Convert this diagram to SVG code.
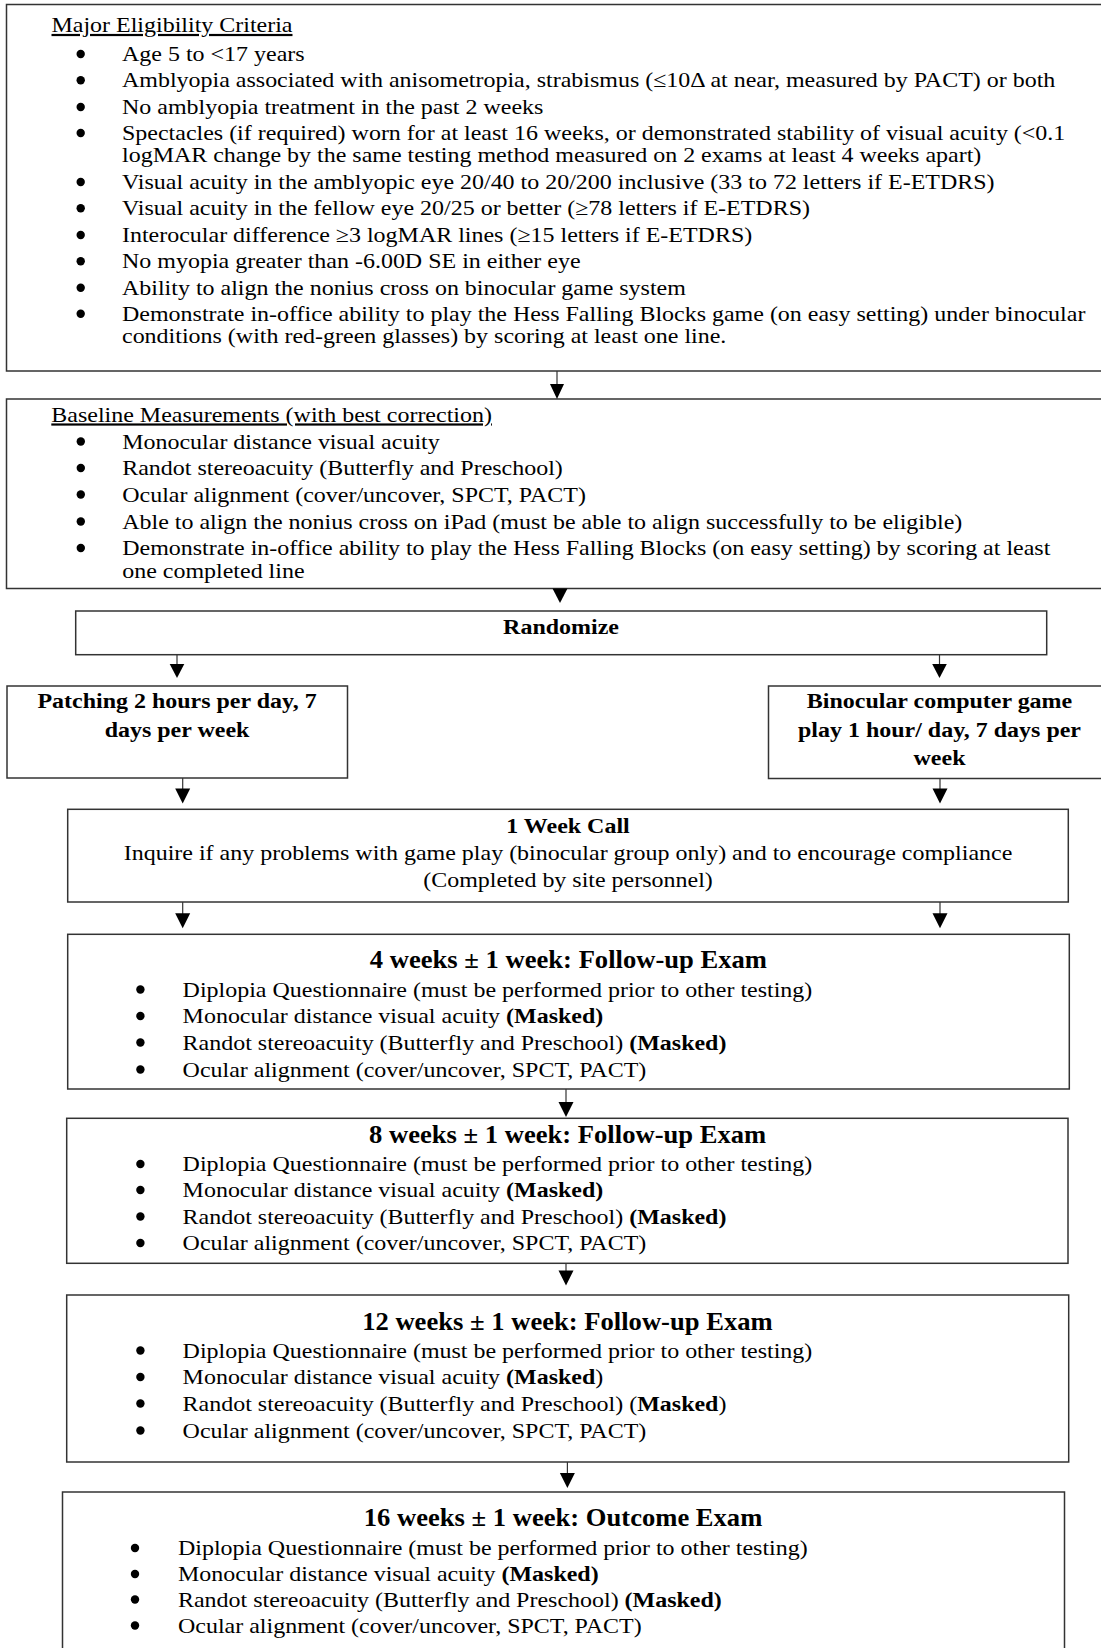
<svg xmlns="http://www.w3.org/2000/svg" width="1101" height="1648" viewBox="0 0 1101 1648">
<style>
.box{fill:#fff;stroke:#333;stroke-width:1.5}
.t{font-family:'Liberation Serif','Times New Roman',serif;font-size:22px;fill:#000}
.b{font-weight:bold}
.c{text-anchor:middle}
.h{font-size:24.4px;font-weight:bold}
.u{text-decoration:underline}
.con line{stroke:#333;stroke-width:1.2}
.con polygon{fill:#000}
.dot{fill:#000}
</style>
<rect x="0" y="0" width="1101" height="1648" fill="#fff"/>

<g id="eligibility">
<rect class="box" x="6.5" y="4.5" width="1100" height="366.5"/>
<text class="t u" transform="translate(51.5,32) scale(1.09,1)">Major Eligibility Criteria</text>
<g class="dot">
<circle cx="80.7" cy="54" r="4.2"/><circle cx="80.7" cy="80.3" r="4.2"/><circle cx="80.7" cy="107" r="4.2"/><circle cx="80.7" cy="133" r="4.2"/><circle cx="80.7" cy="182" r="4.2"/><circle cx="80.7" cy="208.3" r="4.2"/><circle cx="80.7" cy="235" r="4.2"/><circle cx="80.7" cy="261.3" r="4.2"/><circle cx="80.7" cy="287.7" r="4.2"/><circle cx="80.7" cy="313.7" r="4.2"/>
</g>
<text class="t" transform="translate(122,61) scale(1.09,1)">Age 5 to &lt;17 years</text>
<text class="t" transform="translate(122,87.3) scale(1.09,1)">Amblyopia associated with anisometropia, strabismus (≤10Δ at near, measured by PACT) or both</text>
<text class="t" transform="translate(122,114) scale(1.09,1)">No amblyopia treatment in the past 2 weeks</text>
<text class="t" transform="translate(122,140) scale(1.09,1)">Spectacles (if required) worn for at least 16 weeks, or demonstrated stability of visual acuity (&lt;0.1</text>
<text class="t" transform="translate(122,162.3) scale(1.09,1)">logMAR change by the same testing method measured on 2 exams at least 4 weeks apart)</text>
<text class="t" transform="translate(122,189) scale(1.09,1)">Visual acuity in the amblyopic eye 20/40 to 20/200 inclusive (33 to 72 letters if E-ETDRS)</text>
<text class="t" transform="translate(122,215.3) scale(1.09,1)">Visual acuity in the fellow eye 20/25 or better (≥78 letters if E-ETDRS)</text>
<text class="t" transform="translate(122,242) scale(1.09,1)">Interocular difference ≥3 logMAR lines (≥15 letters if E-ETDRS)</text>
<text class="t" transform="translate(122,268.3) scale(1.09,1)">No myopia greater than -6.00D SE in either eye</text>
<text class="t" transform="translate(122,294.7) scale(1.09,1)">Ability to align the nonius cross on binocular game system</text>
<text class="t" transform="translate(122,320.7) scale(1.09,1)">Demonstrate in-office ability to play the Hess Falling Blocks game (on easy setting) under binocular</text>
<text class="t" transform="translate(122,342.7) scale(1.09,1)">conditions (with red-green glasses) by scoring at least one line.</text>
</g>

<g id="baseline">
<rect class="box" x="6.5" y="399" width="1100" height="189.5"/>
<text class="t u" transform="translate(51.3,421.5) scale(1.09,1)">Baseline Measurements (with best correction)</text>
<g class="dot">
<circle cx="80.8" cy="441.5" r="4.2"/><circle cx="80.8" cy="468" r="4.2"/><circle cx="80.8" cy="494.5" r="4.2"/><circle cx="80.8" cy="521.5" r="4.2"/><circle cx="80.8" cy="548" r="4.2"/>
</g>
<text class="t" transform="translate(122.2,448.5) scale(1.09,1)">Monocular distance visual acuity</text>
<text class="t" transform="translate(122.2,475) scale(1.09,1)">Randot stereoacuity (Butterfly and Preschool)</text>
<text class="t" transform="translate(122.2,501.5) scale(1.09,1)">Ocular alignment (cover/uncover, SPCT, PACT)</text>
<text class="t" transform="translate(122.2,528.5) scale(1.09,1)">Able to align the nonius cross on iPad (must be able to align successfully to be eligible)</text>
<text class="t" transform="translate(122.2,555) scale(1.09,1)">Demonstrate in-office ability to play the Hess Falling Blocks (on easy setting) by scoring at least</text>
<text class="t" transform="translate(122.2,577.5) scale(1.09,1)">one completed line</text>
</g>

<g id="randomize">
<rect class="box" x="75.7" y="611" width="971" height="43.7"/>
<text class="t b c" transform="translate(561,634) scale(1.09,1)">Randomize</text>
</g>

<g id="patching">
<rect class="box" x="7" y="686" width="340.5" height="92"/>
<text class="t b c" transform="translate(177,708) scale(1.09,1)">Patching 2 hours per day, 7</text>
<text class="t b c" transform="translate(177,736.5) scale(1.09,1)">days per week</text>
</g>

<g id="binocular">
<rect class="box" x="768.5" y="686" width="340" height="92.5"/>
<text class="t b c" transform="translate(939.5,708) scale(1.09,1)">Binocular computer game</text>
<text class="t b c" transform="translate(939.5,736.5) scale(1.09,1)">play 1 hour/ day, 7 days per</text>
<text class="t b c" transform="translate(939.5,765) scale(1.09,1)">week</text>
</g>

<g id="week1call">
<rect class="box" x="67.7" y="809.3" width="1000.6" height="92.7"/>
<text class="t b c" transform="translate(568,833) scale(1.09,1)">1 Week Call</text>
<text class="t c" transform="translate(568,860) scale(1.09,1)">Inquire if any problems with game play (binocular group only) and to encourage compliance</text>
<text class="t c" transform="translate(568,887) scale(1.09,1)">(Completed by site personnel)</text>
</g>

<g id="week4">
<rect class="box" x="67.7" y="934.3" width="1001.6" height="154.7"/>
<text class="t h c" transform="translate(568.4,968) scale(1.09,1)">4 weeks ± 1 week: Follow-up Exam</text>
<g class="dot">
<circle cx="140.4" cy="989.5" r="4.2"/><circle cx="140.4" cy="1016" r="4.2"/><circle cx="140.4" cy="1042.5" r="4.2"/><circle cx="140.4" cy="1069.5" r="4.2"/>
</g>
<text class="t" transform="translate(182.6,996.5) scale(1.09,1)">Diplopia Questionnaire (must be performed prior to other testing)</text>
<text class="t" transform="translate(182.6,1023) scale(1.09,1)">Monocular distance visual acuity <tspan class="b">(Masked)</tspan></text>
<text class="t" transform="translate(182.6,1049.5) scale(1.09,1)">Randot stereoacuity (Butterfly and Preschool) <tspan class="b">(Masked)</tspan></text>
<text class="t" transform="translate(182.6,1076.5) scale(1.09,1)">Ocular alignment (cover/uncover, SPCT, PACT)</text>
</g>

<g id="week8">
<rect class="box" x="66.7" y="1118.3" width="1001.3" height="145"/>
<text class="t h c" transform="translate(567.6,1143) scale(1.09,1)">8 weeks ± 1 week: Follow-up Exam</text>
<g class="dot">
<circle cx="140.4" cy="1164" r="4.2"/><circle cx="140.4" cy="1190" r="4.2"/><circle cx="140.4" cy="1216.5" r="4.2"/><circle cx="140.4" cy="1243" r="4.2"/>
</g>
<text class="t" transform="translate(182.6,1171) scale(1.09,1)">Diplopia Questionnaire (must be performed prior to other testing)</text>
<text class="t" transform="translate(182.6,1197) scale(1.09,1)">Monocular distance visual acuity <tspan class="b">(Masked)</tspan></text>
<text class="t" transform="translate(182.6,1223.5) scale(1.09,1)">Randot stereoacuity (Butterfly and Preschool) <tspan class="b">(Masked)</tspan></text>
<text class="t" transform="translate(182.6,1250) scale(1.09,1)">Ocular alignment (cover/uncover, SPCT, PACT)</text>
</g>

<g id="week12">
<rect class="box" x="66.7" y="1295" width="1002" height="167"/>
<text class="t h c" transform="translate(567.4,1329.5) scale(1.09,1)">12 weeks ± 1 week: Follow-up Exam</text>
<g class="dot">
<circle cx="140.4" cy="1350.5" r="4.2"/><circle cx="140.4" cy="1377" r="4.2"/><circle cx="140.4" cy="1403.5" r="4.2"/><circle cx="140.4" cy="1430.5" r="4.2"/>
</g>
<text class="t" transform="translate(182.6,1357.5) scale(1.09,1)">Diplopia Questionnaire (must be performed prior to other testing)</text>
<text class="t" transform="translate(182.6,1384) scale(1.09,1)">Monocular distance visual acuity <tspan class="b">(Masked</tspan>)</text>
<text class="t" transform="translate(182.6,1410.5) scale(1.09,1)">Randot stereoacuity (Butterfly and Preschool) (<tspan class="b">Masked</tspan>)</text>
<text class="t" transform="translate(182.6,1437.5) scale(1.09,1)">Ocular alignment (cover/uncover, SPCT, PACT)</text>
</g>

<g id="week16">
<rect class="box" x="62.5" y="1492" width="1002" height="200"/>
<text class="t h c" transform="translate(563,1526) scale(1.09,1)">16 weeks ± 1 week: Outcome Exam</text>
<g class="dot">
<circle cx="135" cy="1548" r="4.2"/><circle cx="135" cy="1574" r="4.2"/><circle cx="135" cy="1599.5" r="4.2"/><circle cx="135" cy="1625.5" r="4.2"/>
</g>
<text class="t" transform="translate(178,1555) scale(1.09,1)">Diplopia Questionnaire (must be performed prior to other testing)</text>
<text class="t" transform="translate(178,1581) scale(1.09,1)">Monocular distance visual acuity <tspan class="b">(Masked)</tspan></text>
<text class="t" transform="translate(178,1606.5) scale(1.09,1)">Randot stereoacuity (Butterfly and Preschool) <tspan class="b">(Masked)</tspan></text>
<text class="t" transform="translate(178,1632.5) scale(1.09,1)">Ocular alignment (cover/uncover, SPCT, PACT)</text>
</g>

<g id="connectors" class="con">
<line x1="557" y1="371" x2="557" y2="385"/><polygon points="550,384 564,384 557,399"/>
<polygon points="552.5,588.5 567.5,588.5 560,603"/>
<line x1="177" y1="654.7" x2="177" y2="665"/><polygon points="169.7,664 184.3,664 177,678"/>
<line x1="939.5" y1="654.7" x2="939.5" y2="665"/><polygon points="932.2,664 946.8,664 939.5,678"/>
<line x1="182.7" y1="778" x2="182.7" y2="790"/><polygon points="175.2,788.5 190.2,788.5 182.7,803.5"/>
<line x1="940" y1="778.5" x2="940" y2="790"/><polygon points="932.5,788.5 947.5,788.5 940,803.5"/>
<line x1="182.7" y1="902" x2="182.7" y2="914"/><polygon points="175.2,913.3 190.2,913.3 182.7,928.3"/>
<line x1="940" y1="902" x2="940" y2="914"/><polygon points="932.5,913.3 947.5,913.3 940,928.3"/>
<line x1="566" y1="1089" x2="566" y2="1103"/><polygon points="558.5,1102 573.5,1102 566,1117"/>
<line x1="566" y1="1263.3" x2="566" y2="1272"/><polygon points="558.5,1270.5 573.5,1270.5 566,1285.5"/>
<line x1="567.4" y1="1462" x2="567.4" y2="1474"/><polygon points="559.9,1473 574.9,1473 567.4,1488"/>
</g>
</svg>
